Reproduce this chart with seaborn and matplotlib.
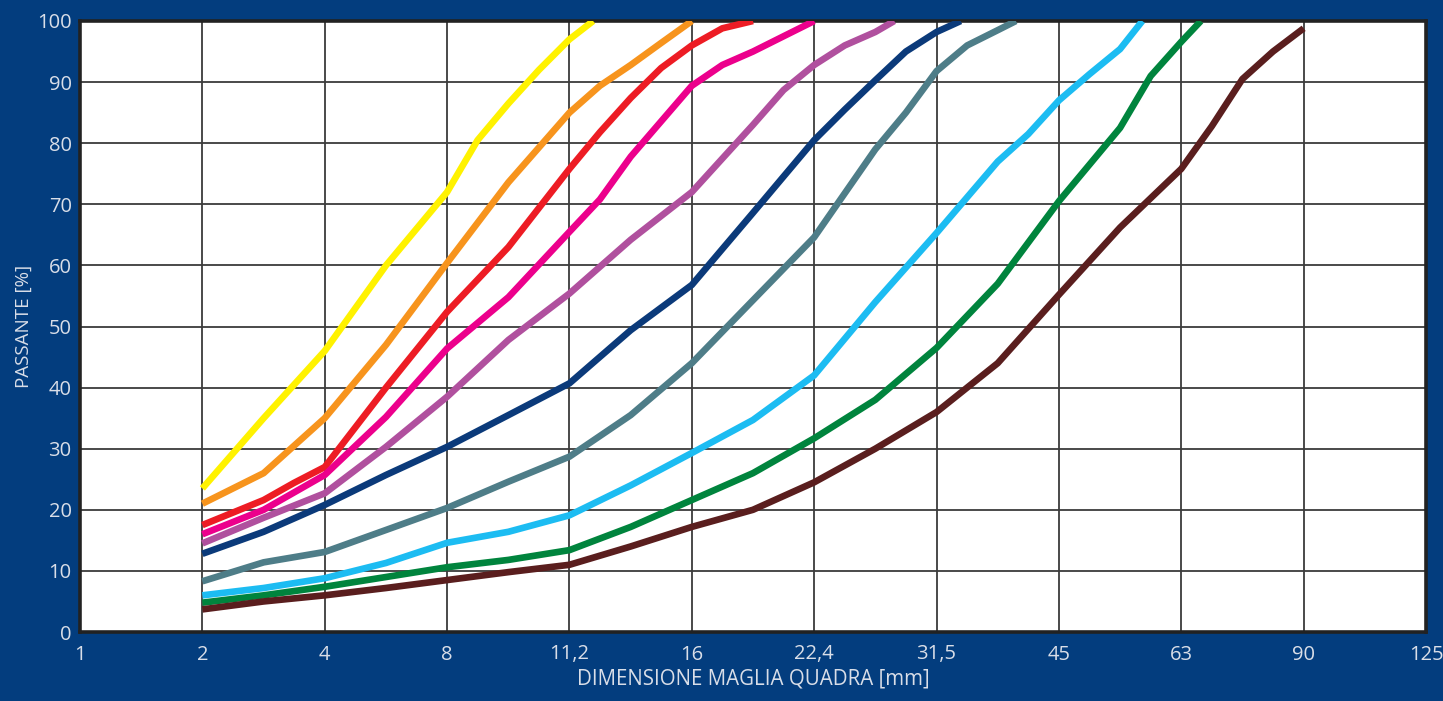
import numpy as np
import pandas as pd
import matplotlib
matplotlib.use('Agg')
import matplotlib.pyplot as plt
import seaborn as sns

# sieve sizes on the x axis (mm), evenly spaced on the chart
sieves = [1, 2, 4, 8, 11.2, 16, 22.4, 31.5, 45, 63, 90, 125]
sieve_labels = ['1', '2', '4', '8', '11,2', '16', '22,4', '31,5', '45', '63', '90', '125']

# grading curves: mesh size (mm) and passing (%)
yellow_mm = [2, 2.83, 4, 5.66, 8, 8.7, 9.47, 10.3, 11.2, 12]
yellow_pct = [23.5, 35, 46, 60, 72, 80.5, 86.5, 92, 97, 100]

orange_mm = [2, 2.83, 4, 5.66, 8, 9.47, 11.2, 12.24, 13.39, 14.63, 16]
orange_pct = [21, 26, 35, 47, 60.4, 73.6, 85, 89.4, 92.8, 96.4, 100]

red_mm = [2, 2.83, 3.36, 4, 5.66, 8, 9.47, 11.2, 12.24, 13.39, 14.63, 16, 17.4, 18.93]
red_pct = [17.5, 21.6, 24.4, 27, 40, 52.4, 63, 75.8, 81.8, 87.4, 92.3, 96, 98.8, 100]

pink_mm = [2, 2.83, 4, 5.66, 8, 9.47, 11.2, 12.24, 13.39, 16, 17.4, 18.93, 20.59, 22.4]
pink_pct = [16, 20, 25.7, 35.2, 46.4, 54.8, 65.5, 70.8, 77.8, 89.4, 92.8, 95, 97.5, 100]

purple_mm = [2, 2.83, 4, 5.66, 8, 9.47, 11.2, 13.39, 16, 18.93, 20.59, 22.4, 24.39, 26.56, 28]
purple_pct = [14.5, 18.7, 22.7, 30.3, 38.5, 47.8, 55.4, 64.2, 72, 83, 88.7, 92.8, 96, 98.2, 100]

navy_mm = [2, 2.83, 4, 5.66, 8, 9.47, 11.2, 13.39, 16, 18.93, 22.4, 24.39, 26.56, 28.92, 31.5, 33.8]
navy_pct = [12.8, 16.4, 20.8, 25.7, 30.3, 35.5, 40.7, 49.4, 56.8, 68.6, 80.5, 85.5, 90.3, 95, 98.2, 100]

teal_mm = [2, 2.83, 4, 5.66, 8, 9.47, 11.2, 13.39, 16, 18.93, 22.4, 26.56, 28.92, 31.5, 34.44, 37.65, 39.7]
teal_pct = [8.3, 11.4, 13.1, 16.7, 20.3, 24.6, 28.7, 35.5, 44, 54.3, 64.6, 79, 85, 91.8, 96, 98.5, 100]

cyan_mm = [2, 2.83, 4, 5.66, 8, 9.47, 11.2, 13.39, 16, 18.93, 22.4, 26.56, 31.5, 37.65, 41.16, 45,
           48.95, 53.24, 56.6]
cyan_pct = [6, 7.2, 8.8, 11.3, 14.6, 16.4, 19.1, 24, 29.3, 34.7, 42, 54, 65.3, 77, 81.5, 87,
            91.3, 95.4, 100]

green_mm = [2, 2.83, 4, 5.66, 8, 9.47, 11.2, 13.39, 16, 18.93, 22.4, 26.56, 31.5, 37.65, 45,
            53.24, 57.92, 63, 66.7]
green_pct = [4.8, 6, 7.4, 9, 10.6, 11.8, 13.4, 17.2, 21.6, 26, 31.7, 38, 46.5, 57, 70.5,
             82.5, 91, 96.6, 100]

brown_mm = [2, 2.83, 4, 5.66, 8, 9.47, 11.2, 13.39, 16, 18.93, 22.4, 26.56, 31.5, 37.65, 45,
            53.24, 63, 68.88, 75.29, 82.3, 90]
brown_pct = [3.7, 5, 6, 7.2, 8.5, 9.8, 11, 14, 17.2, 20, 24.5, 30, 36, 44, 55.2,
             66.2, 75.8, 82.8, 90.5, 95, 98.8]

names = ['yellow', 'orange', 'red', 'pink', 'purple', 'navy', 'teal', 'cyan', 'green', 'brown']
colors = ['#fff200', '#f7941d', '#ed1c24', '#ec008c', '#b0509e', '#0b3a7a',
          '#4e7d88', '#1cbcf2', '#00843d', '#5a1e1e']
curves_mm = [yellow_mm, orange_mm, red_mm, pink_mm, purple_mm, navy_mm, teal_mm, cyan_mm,
             green_mm, brown_mm]
curves_pct = [yellow_pct, orange_pct, red_pct, pink_pct, purple_pct, navy_pct, teal_pct,
              cyan_pct, green_pct, brown_pct]

df = pd.concat([pd.DataFrame({'curve': n, 'mm': x, 'pct': y})
                for n, x, y in zip(names, curves_mm, curves_pct)], ignore_index=True)

# piecewise log scale so the sieve sizes sit at equal spacing
idx = np.arange(len(sieves))
logs = np.log(sieves)


def fwd(x):
    x = np.clip(np.asarray(x, dtype=float), 0.5, 300)
    return np.interp(np.log(x), logs, idx, left=-1, right=12)


def inv(p):
    return np.exp(np.interp(p, idx, logs))


bg = '#033d7e'
txt = '#d9dee8'

sns.set_style('white')
plt.rcParams['font.family'] = ['Open Sans', 'DejaVu Sans']

fig = plt.figure(figsize=(14.43, 7.01), dpi=100, facecolor=bg)
ax = fig.add_axes([80 / 1443, 69 / 701, 1346 / 1443, 611 / 701])
ax.set_facecolor('white')
ax.set_xscale('function', functions=(fwd, inv))

sns.lineplot(data=df, x='mm', y='pct', hue='curve', palette=dict(zip(names, colors)),
             hue_order=names, estimator=None, sort=False, linewidth=4.8,
             legend=False, ax=ax, solid_capstyle='butt', solid_joinstyle='round', zorder=3)

ax.set_xlim(1, 125)
ax.set_ylim(0, 100)
ax.set_xticks(sieves)
ax.set_xticklabels(sieve_labels)
ax.xaxis.set_minor_locator(matplotlib.ticker.NullLocator())
ax.set_yticks(range(0, 101, 10))
ax.grid(True, color='#3c3c3c', linewidth=1.3, zorder=1)
ax.set_axisbelow(True)
ax.tick_params(axis='both', length=0, colors=txt, labelsize=14.5)
ax.tick_params(axis='x', pad=9)
ax.tick_params(axis='y', pad=6)
for s in ax.spines.values():
    s.set_color('#222222')
    s.set_linewidth(2.6)

ax.set_xlabel('DIMENSIONE MAGLIA QUADRA [mm]', color=txt, fontsize=14.8, labelpad=3)
ax.set_ylabel('PASSANTE [%]', color=txt, fontsize=13.5, labelpad=3)

fig.savefig('out.png', dpi=100, facecolor=bg)
